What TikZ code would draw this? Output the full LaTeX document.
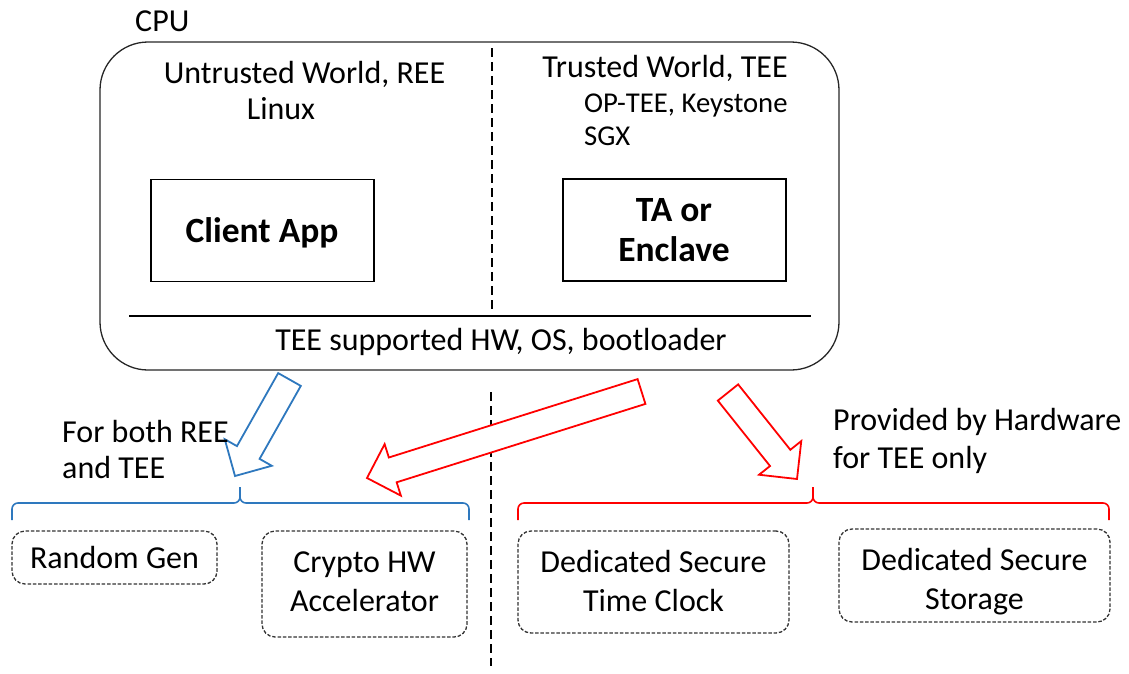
\documentclass[tikz,border=0pt]{standalone}
\usepackage{fontspec}
\setmainfont{Carlito}
\usetikzlibrary{calc}
\definecolor{arrblue}{RGB}{46,120,190}
\definecolor{arrred}{RGB}{255,0,0}
\definecolor{dashgray}{RGB}{50,50,50}
\newcommand{\blockarrow}[4]{%
  \coordinate (#4h) at ($(#3)!27pt!(#2)$);
  \draw[#1] ($(#2)!13pt!90:(#3)$) -- ($(#4h)!13pt!-90:(#2)$) -- ($(#4h)!27pt!-90:(#2)$) -- (#3)
    -- ($(#4h)!27pt!90:(#2)$) -- ($(#4h)!13pt!90:(#2)$) -- ($(#2)!13pt!-90:(#3)$) -- cycle;}
\begin{document}
\begin{tikzpicture}[x=1pt,y=-1pt,
  txt/.style={font=\fontsize{32}{39}\selectfont, inner sep=0pt},
  smalltxt/.style={font=\fontsize{28.7}{35}\selectfont, inner sep=0pt},
  boldtxt/.style={font=\fontsize{35.5}{40}\selectfont\bfseries, inner sep=0pt},
  solidbox/.style={draw=black, line width=1.3pt, inner sep=0pt},
  cpubox/.style={draw=black!85, line width=1.3pt, rounded corners=48pt, inner sep=0pt},
  hwbox/.style={draw=dashgray, line width=1.3pt, dash pattern=on 3.5pt off 1.8pt, rounded corners=13pt, inner sep=0pt},
  sepline/.style={line width=2.6pt, dash pattern=on 9pt off 5pt},
  barrow/.style={line width=1.8pt, line join=miter, fill=white},
  bracestyle/.style={line width=1.6pt}
]
\useasboundingbox (0,0) rectangle (1129,673);

% CPU box
\node[cpubox, minimum width=739pt, minimum height=328pt] (cpu) at (469.5,206) {};
\node[txt, anchor=base west] (cputxt) at (135,31) {CPU};

% world separator
\coordinate (s1) at (492,48);
\coordinate (s2) at (492,313);
\draw[sepline] (s1) -- (s2);
\coordinate (s3) at (491,392);
\coordinate (s4) at (491,666);
\draw[sepline] (s3) -- (s4);

% HW line
\coordinate (h1) at (129,316);
\coordinate (h2) at (811,316);
\draw[line width=1.3pt] (h1) -- (h2);
\node[txt, anchor=base] (hwtxt) at (501,350) {TEE supported HW, OS, bootloader};

% left world
\node[txt, anchor=base] (ree) at (304.5,83) {Untrusted World, REE};
\node[txt, anchor=base] (linux) at (281,119) {Linux};
\node[solidbox, minimum width=223pt, minimum height=102pt] (client) at (262.5,230.5) {};
\node[boldtxt, anchor=base] (clienttxt) at (262,242) {Client App};

% right world
\node[txt, anchor=base] (tee) at (665,77) {Trusted World, TEE};
\node[smalltxt, anchor=base west] (optee) at (584,112) {OP-TEE, Keystone};
\node[smalltxt, anchor=base west] (sgx) at (584,145) {SGX};
\node[solidbox, minimum width=223pt, minimum height=102pt] (ta) at (674.5,230) {};
\node[boldtxt, anchor=base] (tatxt1) at (674,221.5) {TA or};
\node[boldtxt, anchor=base] (tatxt2) at (674,261.5) {Enclave};

% block arrows
\coordinate (bt) at (289.5,379.5);
\coordinate (bp) at (235,476);
\blockarrow{barrow, draw=arrblue}{bt}{bp}{ba}
\coordinate (rt) at (641.5,391.5);
\coordinate (rp) at (367,478);
\blockarrow{barrow, draw=arrred}{rt}{rp}{ra}
\coordinate (qt) at (728,392.5);
\coordinate (qp) at (797,479);
\blockarrow{barrow, draw=arrred}{qt}{qp}{qa}

% labels
\node[txt, anchor=base west] (both1) at (62,442) {For both REE};
\node[txt, anchor=base west] (both2) at (62,478) {and TEE};
\node[txt, anchor=base west] (prov1) at (833,430) {Provided by Hardware};
\node[txt, anchor=base west] (prov2) at (833,468) {for TEE only};

% braces
\draw[bracestyle, arrblue] (12,520) -- (12,509) .. controls (12,505.7) and (14.7,503) .. (18,503) -- (234,503)
  .. controls (237.3,503) and (240,500.3) .. (240,497) -- (240,487);
\draw[bracestyle, arrblue] (240,497) .. controls (240,500.3) and (242.7,503) .. (246,503) -- (463,503)
  .. controls (466.3,503) and (469,505.7) .. (469,509) -- (469,520);
\draw[bracestyle, arrred] (518,520) -- (518,509) .. controls (518,505.7) and (520.7,503) .. (524,503) -- (807,503)
  .. controls (810.3,503) and (813,500.3) .. (813,497) -- (813,487);
\draw[bracestyle, arrred] (813,497) .. controls (813,500.3) and (815.7,503) .. (819,503) -- (1103,503)
  .. controls (1106.3,503) and (1109,505.7) .. (1109,509) -- (1109,520);

% hardware boxes
\node[hwbox, minimum width=205pt, minimum height=53pt] (rng) at (114.5,557.5) {};
\node[txt, anchor=base] (rngtxt) at (114.5,568) {Random Gen};
\node[hwbox, minimum width=205pt, minimum height=106pt] (crypto) at (364.5,584) {};
\node[txt, anchor=base] (cryptotxt1) at (364.5,572) {Crypto HW};
\node[txt, anchor=base] (cryptotxt2) at (364.5,611) {Accelerator};
\node[hwbox, minimum width=271pt, minimum height=102pt] (clock) at (653.5,582) {};
\node[txt, anchor=base] (clocktxt1) at (653.5,572) {Dedicated Secure};
\node[txt, anchor=base] (clocktxt2) at (653.5,611) {Time Clock};
\node[hwbox, minimum width=271pt, minimum height=93pt] (storage) at (974.5,575.5) {};
\node[txt, anchor=base] (storagetxt1) at (974.5,570) {Dedicated Secure};
\node[txt, anchor=base] (storagetxt2) at (974.5,609) {Storage};
\end{tikzpicture}
\end{document}
